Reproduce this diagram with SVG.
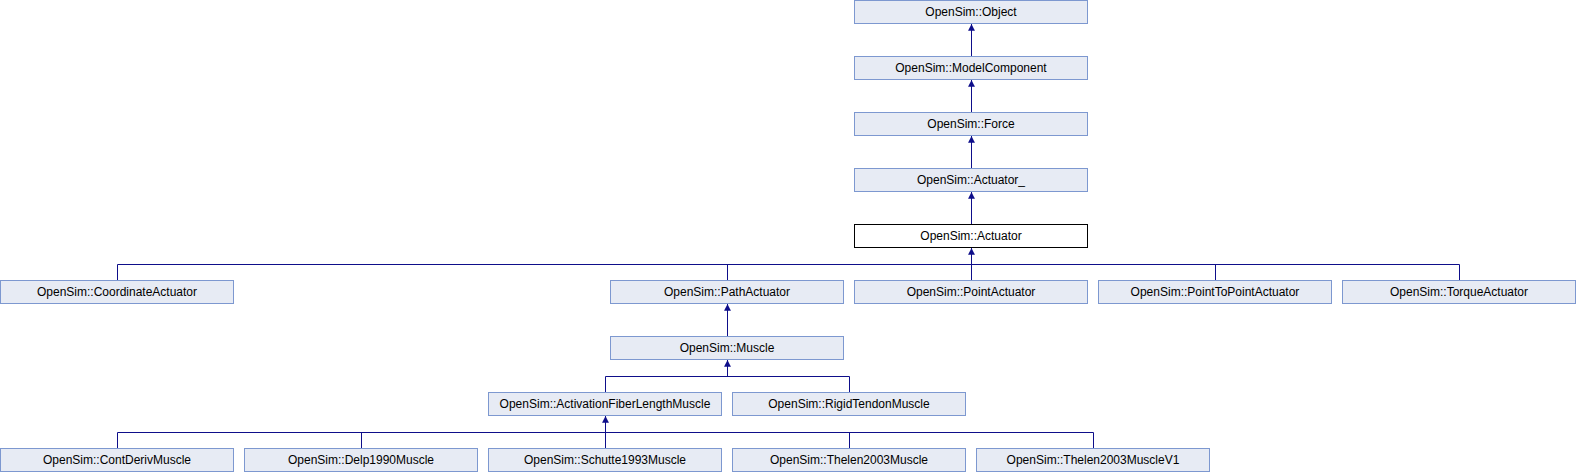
<svg xmlns="http://www.w3.org/2000/svg" width="1576" height="472" viewBox="0 0 1576 472">
<style>
.n rect{fill:#e7ebf4;stroke:#7d98d0;stroke-width:1}
.n.cur rect{fill:#ffffff;stroke:#000000}
.n text{font-family:"Liberation Sans",Arial,sans-serif;font-size:12px;fill:#000;text-anchor:middle}
.e path{fill:none;stroke:#0e0e8a;stroke-width:1}
</style>
<defs>
<marker id="ah" markerUnits="userSpaceOnUse" markerWidth="8" markerHeight="8" refX="6" refY="3.5" orient="auto" viewBox="0 0 7 7">
<polygon points="0,0.5 6,3.5 0,6.5" fill="#0e0e8a"/>
</marker>
</defs>
<g id="edges" class="e">
<path d="M971.5,56 V24" marker-end="url(#ah)"/>
<path d="M971.5,112 V80" marker-end="url(#ah)"/>
<path d="M971.5,168 V136" marker-end="url(#ah)"/>
<path d="M971.5,224 V192" marker-end="url(#ah)"/>
<path d="M971.5,280 V248" marker-end="url(#ah)"/>
<path d="M117.5,280 V264.5 H1459.5 V280"/>
<path d="M727.5,264.5 V280"/>
<path d="M1215.5,264.5 V280"/>
<path d="M727.5,336 V304" marker-end="url(#ah)"/>
<path d="M727.5,376.5 V360" marker-end="url(#ah)"/>
<path d="M605.5,392 V376.5 H849.5 V392"/>
<path d="M605.5,432.5 V416" marker-end="url(#ah)"/>
<path d="M117.5,448 V432.5 H1093.5 V448"/>
<path d="M361.5,432.5 V448"/>
<path d="M605.5,432.5 V448"/>
<path d="M849.5,432.5 V448"/>
</g>
<g id="n_object" class="n"><rect x="854.5" y="0.5" width="233" height="23"/><text x="971" y="16">OpenSim::Object</text></g>
<g id="n_modelcomponent" class="n"><rect x="854.5" y="56.5" width="233" height="23"/><text x="971" y="72">OpenSim::ModelComponent</text></g>
<g id="n_force" class="n"><rect x="854.5" y="112.5" width="233" height="23"/><text x="971" y="128">OpenSim::Force</text></g>
<g id="n_actuator_" class="n"><rect x="854.5" y="168.5" width="233" height="23"/><text x="971" y="184">OpenSim::Actuator_</text></g>
<g id="n_actuator" class="n cur"><rect x="854.5" y="224.5" width="233" height="23"/><text x="971" y="240">OpenSim::Actuator</text></g>
<g id="n_coordinateactuator" class="n"><rect x="0.5" y="280.5" width="233" height="23"/><text x="117" y="296">OpenSim::CoordinateActuator</text></g>
<g id="n_pathactuator" class="n"><rect x="610.5" y="280.5" width="233" height="23"/><text x="727" y="296">OpenSim::PathActuator</text></g>
<g id="n_pointactuator" class="n"><rect x="854.5" y="280.5" width="233" height="23"/><text x="971" y="296">OpenSim::PointActuator</text></g>
<g id="n_pointtopointactuator" class="n"><rect x="1098.5" y="280.5" width="233" height="23"/><text x="1215" y="296">OpenSim::PointToPointActuator</text></g>
<g id="n_torqueactuator" class="n"><rect x="1342.5" y="280.5" width="233" height="23"/><text x="1459" y="296">OpenSim::TorqueActuator</text></g>
<g id="n_muscle" class="n"><rect x="610.5" y="336.5" width="233" height="23"/><text x="727" y="352">OpenSim::Muscle</text></g>
<g id="n_activationfiberlengthmuscle" class="n"><rect x="488.5" y="392.5" width="233" height="23"/><text x="605" y="408">OpenSim::ActivationFiberLengthMuscle</text></g>
<g id="n_rigidtendonmuscle" class="n"><rect x="732.5" y="392.5" width="233" height="23"/><text x="849" y="408">OpenSim::RigidTendonMuscle</text></g>
<g id="n_contderivmuscle" class="n"><rect x="0.5" y="448.5" width="233" height="23"/><text x="117" y="464">OpenSim::ContDerivMuscle</text></g>
<g id="n_delp1990muscle" class="n"><rect x="244.5" y="448.5" width="233" height="23"/><text x="361" y="464">OpenSim::Delp1990Muscle</text></g>
<g id="n_schutte1993muscle" class="n"><rect x="488.5" y="448.5" width="233" height="23"/><text x="605" y="464">OpenSim::Schutte1993Muscle</text></g>
<g id="n_thelen2003muscle" class="n"><rect x="732.5" y="448.5" width="233" height="23"/><text x="849" y="464">OpenSim::Thelen2003Muscle</text></g>
<g id="n_thelen2003musclev1" class="n"><rect x="976.5" y="448.5" width="233" height="23"/><text x="1093" y="464">OpenSim::Thelen2003MuscleV1</text></g>
</svg>
